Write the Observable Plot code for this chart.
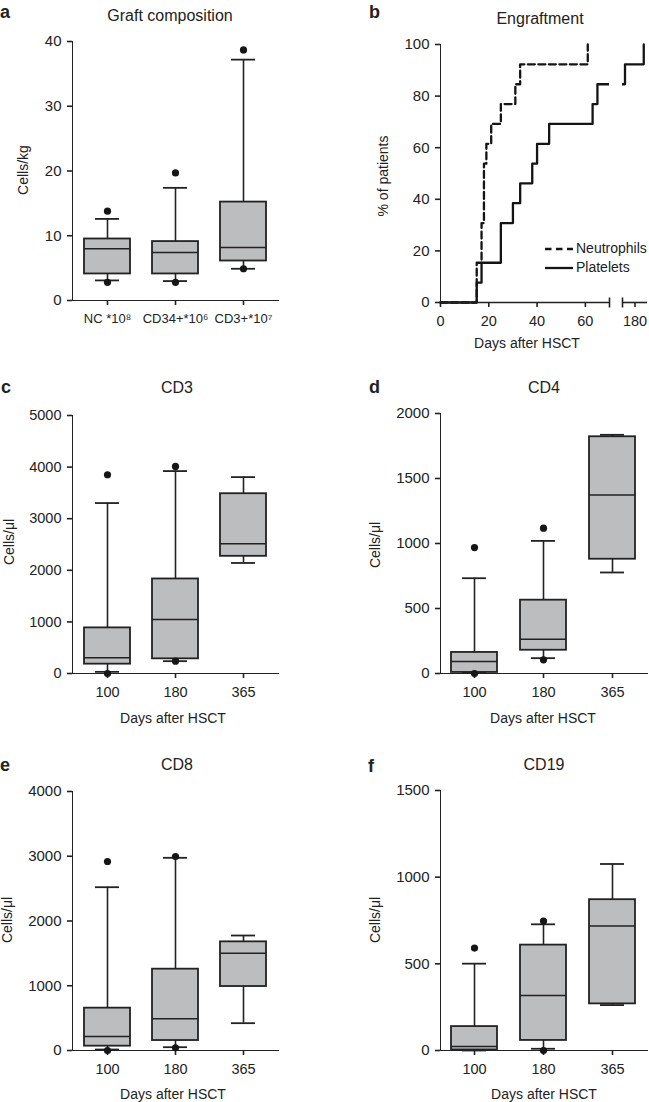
<!DOCTYPE html>
<html>
<head>
<meta charset="utf-8">
<script src="https://cdn.jsdelivr.net/npm/d3@7"></script>
<script src="https://cdn.jsdelivr.net/npm/@observablehq/plot@0.6"></script>
<style>
  body { margin: 0; background: #fff; }
  #root { position: relative; width: 649px; height: 1102px; overflow: hidden;
          font-family: "Liberation Sans", Arial, Helvetica, sans-serif; color: #222; }
  .panel { position: absolute; }
  .panel svg { overflow: visible; }
  .panel g[aria-label*="axis"] path, .panel g[aria-label*="axis"] line { stroke-width: 1.6px; stroke: #222; }
  #overlay { position: absolute; left: 0; top: 0; pointer-events: none; overflow: visible; }
  #overlay text { font-family: "Liberation Sans", Arial, Helvetica, sans-serif; fill: #222; }
  #overlay .letter { font-weight: bold; font-size: 18px; }
  #overlay .title { font-size: 16px; text-anchor: middle; }
  #overlay .axis { font-size: 14px; text-anchor: middle; }
  #overlay .legend { font-size: 14px; dominant-baseline: middle; }
</style>
</head>
<body>
<div id="root"></div>
<script>
// ---------------- DATA ----------------
// Panel a: graft composition
const graftCategories = ["NC *10\u2078", "CD34+*10\u2076", "CD3+*10\u2077"];
const graftQ1 = [4.1, 4.1, 6.1];
const graftMedian = [8.0, 7.4, 8.2];
const graftQ3 = [9.5, 9.1, 15.2];
const graftLow = [3.1, 3.0, 4.9];
const graftHigh = [12.6, 17.4, 37.2];
const graftDotCats = ["NC *10\u2078", "NC *10\u2078", "CD34+*10\u2076", "CD34+*10\u2076", "CD3+*10\u2077", "CD3+*10\u2077"];
const graftDotValues = [13.8, 2.8, 19.7, 2.8, 38.7, 4.9];
const graftTicks = [0, 10, 20, 30, 40];

// Panel b: engraftment (cumulative % of patients)
const neutrophilDays = [0, 15, 17, 18, 19, 21, 25, 31, 33, 61];
const neutrophilPct = [0, 15.4, 30.8, 53.8, 61.5, 69.2, 76.9, 84.6, 92.3, 100];
const plateletDays = [0, 15, 17, 25, 30, 33, 38, 40, 45, 63, 65, 172, 187];
const plateletPct = [0, 7.7, 15.4, 30.8, 38.5, 46.2, 53.8, 61.5, 69.2, 76.9, 84.6, 92.3, 100];
const engraftXTicks = [0, 20, 40, 60, 180];
const engraftYTicks = [0, 20, 40, 60, 80, 100];
const engraftDomain = [0, 70, 170, 190];   // broken axis: 0–70 | 170–190
const breakDays = [70, 170];
const legendLabels = ["Neutrophils", "Platelets"];

// Days after HSCT categories
const dayCategories = ["100", "180", "365"];

// Panel c: CD3
const cd3Q1 = [181, 284, 2271];
const cd3Median = [303, 1045, 2516];
const cd3Q3 = [884, 1832, 3484];
const cd3Low = [32, 239, 2142];
const cd3High = [3303, 3923, 3806];
const cd3DotCats = ["100", "100", "180", "180"];
const cd3DotValues = [3852, 0, 4013, 239];
const cd3Ticks = [0, 1000, 2000, 3000, 4000, 5000];

// Panel d: CD4
const cd4Q1 = [8, 179, 879];
const cd4Median = [92, 264, 1374];
const cd4Q3 = [162, 564, 1821];
const cd4Low = [5, 118, 777];
const cd4High = [733, 1020, 1836];
const cd4DotCats = ["100", "100", "180", "180"];
const cd4DotValues = [969, 0, 1118, 105];
const cd4Ticks = [0, 500, 1000, 1500, 2000];

// Panel e: CD8
const cd8Q1 = [67, 154, 988];
const cd8Median = [216, 489, 1503];
const cd8Q3 = [654, 1256, 1678];
const cd8Low = [15, 51, 422];
const cd8High = [2522, 2976, 1776];
const cd8DotCats = ["100", "100", "180", "180"];
const cd8DotValues = [2919, 0, 2996, 41];
const cd8Ticks = [0, 1000, 2000, 3000, 4000];

// Panel f: CD19
const cd19Q1 = [3, 58, 269];
const cd19Median = [23, 318, 718];
const cd19Q3 = [138, 608, 870];
const cd19Low = [0, 10, 262];
const cd19High = [501, 728, 1076];
const cd19DotCats = ["100", "180", "180"];
const cd19DotValues = [591, 747, 0];
const cd19Ticks = [0, 500, 1000, 1500];

const panelLetters = ["a", "b", "c", "d", "e", "f"];
const panelTitles = ["Graft composition", "Engraftment", "CD3", "CD4", "CD8", "CD19"];
const xAxisLabel = "Days after HSCT";
const yLabels = ["Cells/kg", "% of patients", "Cells/\u03bcl", "Cells/\u03bcl", "Cells/\u03bcl", "Cells/\u03bcl"];

// ---------------- DRAWING ----------------
const INK = "#222";
const BOX_FILL = "#bcbdbf";
const FONT = '"Liberation Sans", Arial, Helvetica, sans-serif';
const root = document.getElementById("root");

// place the svg, then size its tick labels: y-axis labels (left of the frame) vs x-axis labels
function place(id, left, top, node, marginLeft, ySize, xSize) {
  const div = document.createElement("div");
  div.className = "panel";
  div.id = id;
  div.style.left = left + "px";
  div.style.top = top + "px";
  div.appendChild(node);
  root.appendChild(div);
  const svgEl = div.querySelector("svg");
  const box = svgEl.getBoundingClientRect();
  svgEl.querySelectorAll("text").forEach(t => {
    const r = t.getBoundingClientRect();
    const isY = r.right <= box.left + marginLeft - 2;
    t.style.fontSize = (isY ? ySize : xSize) + "px";
    t.style.fill = INK;
    t.style.fontFamily = FONT;
  });
}

function boxPanel(o) {
  const rows = o.cats.map((c, i) => ({cat: c, q1: o.q1[i], med: o.med[i], q3: o.q3[i], lo: o.lo[i], hi: o.hi[i]}));
  const dots = o.dotCats.map((c, i) => ({cat: c, v: o.dotVals[i]}));
  return Plot.plot({
    width: o.width, height: o.height,
    marginLeft: o.ml, marginRight: o.mr, marginTop: o.mt, marginBottom: o.mb,
    style: {fontFamily: FONT, fontSize: "14px", color: INK, background: "transparent", overflow: "visible"},
    x: {domain: o.cats, paddingInner: 0.33, paddingOuter: 0.165, label: null, tickSize: 5, tickPadding: 8, line: true},
    y: {domain: [o.ticks[0], o.ticks[o.ticks.length - 1]], ticks: o.ticks, label: null, tickSize: 5, tickPadding: 6,
        line: true, tickFormat: d => String(d)},
    marks: [
      Plot.ruleX(rows, {x: "cat", y1: "lo", y2: "q1", stroke: INK, strokeWidth: 1.6}),
      Plot.ruleX(rows, {x: "cat", y1: "q3", y2: "hi", stroke: INK, strokeWidth: 1.6}),
      Plot.barY(rows, {x: "cat", y1: "q1", y2: "q3", fill: BOX_FILL, stroke: INK, strokeWidth: 1.8}),
      Plot.tickY(rows, {x: "cat", y: "med", stroke: INK, strokeWidth: 1.5}),
      Plot.tickY(rows, {x: "cat", y: "lo", stroke: INK, strokeWidth: 1.8, insetLeft: 11, insetRight: 11}),
      Plot.tickY(rows, {x: "cat", y: "hi", stroke: INK, strokeWidth: 1.8, insetLeft: 11, insetRight: 11}),
      Plot.dot(dots, {x: "cat", y: "v", r: 3.6, fill: "#161616", stroke: "none"})
    ]
  });
}

// Panel a
place("pa", 0, 0, boxPanel({
  cats: graftCategories, q1: graftQ1, med: graftMedian, q3: graftQ3, lo: graftLow, hi: graftHigh,
  dotCats: graftDotCats, dotVals: graftDotValues, ticks: graftTicks,
  width: 320, height: 340, ml: 72, mr: 42, mt: 41, mb: 40
}), 72, 15, 13);

// Panel b
const neutrophils = neutrophilDays.map((d, i) => ({day: d, pct: neutrophilPct[i]}));
const platelets = plateletDays.map((d, i) => ({day: d, pct: plateletPct[i]}));
const axisSegments = [
  {x1: engraftDomain[0], x2: breakDays[0]},
  {x1: breakDays[1], x2: engraftDomain[engraftDomain.length - 1]}
];
const gap = [{x1: breakDays[0], x2: breakDays[1], y1: engraftYTicks[0], y2: engraftYTicks[engraftYTicks.length - 1]}];
const barSymbol = {
  draw(context, size) {
    const r = Math.sqrt(size / Math.PI);
    context.moveTo(0, -r);
    context.lineTo(0, r);
  }
};
place("pb", 320, 0, Plot.plot({
  width: 329, height: 340,
  marginLeft: 120, marginRight: 2, marginTop: 44, marginBottom: 38,
  style: {fontFamily: FONT, fontSize: "14px", color: INK, background: "transparent", overflow: "visible"},
  x: {type: "linear", domain: engraftDomain, range: [120, 289, 302, 327], ticks: engraftXTicks,
      label: null, tickSize: 5, tickPadding: 8, tickFormat: d => String(d)},
  y: {domain: [0, 100], ticks: engraftYTicks, label: null, tickSize: 5, tickPadding: 6, line: true,
      tickFormat: d => String(d)},
  marks: [
    Plot.line(platelets, {x: "day", y: "pct", curve: "step-after", stroke: "#141414", strokeWidth: 2.3}),
    Plot.line(neutrophils, {x: "day", y: "pct", curve: "step-after", stroke: "#141414", strokeWidth: 2.3,
      strokeDasharray: "7,3.5"}),
    Plot.rect(gap, {x1: "x1", x2: "x2", y1: "y1", y2: "y2", fill: "white", inset: 0}),
    Plot.ruleY(axisSegments, {y: () => 0, x1: "x1", x2: "x2", stroke: INK, strokeWidth: 1.6}),
    Plot.dot(breakDays, {x: d => d, y: () => 0, symbol: barSymbol, r: 5, stroke: INK, strokeWidth: 1.6, fill: "none"})
  ]
}), 120, 15, 14.5);

// Panels c–f
place("pc", 0, 350, boxPanel({
  cats: dayCategories, q1: cd3Q1, med: cd3Median, q3: cd3Q3, lo: cd3Low, hi: cd3High,
  dotCats: cd3DotCats, dotVals: cd3DotValues, ticks: cd3Ticks,
  width: 320, height: 385, ml: 72, mr: 42, mt: 65, mb: 62
}), 72, 14.5, 14.5);
place("pd", 320, 350, boxPanel({
  cats: dayCategories, q1: cd4Q1, med: cd4Median, q3: cd4Q3, lo: cd4Low, hi: cd4High,
  dotCats: cd4DotCats, dotVals: cd4DotValues, ticks: cd4Ticks,
  width: 329, height: 385, ml: 120, mr: 2, mt: 63, mb: 62
}), 120, 15, 14.5);
place("pe", 0, 735, boxPanel({
  cats: dayCategories, q1: cd8Q1, med: cd8Median, q3: cd8Q3, lo: cd8Low, hi: cd8High,
  dotCats: cd8DotCats, dotVals: cd8DotValues, ticks: cd8Ticks,
  width: 320, height: 367, ml: 72, mr: 42, mt: 56, mb: 52
}), 72, 15, 14.5);
place("pf", 320, 735, boxPanel({
  cats: dayCategories, q1: cd19Q1, med: cd19Median, q3: cd19Q3, lo: cd19Low, hi: cd19High,
  dotCats: cd19DotCats, dotVals: cd19DotValues, ticks: cd19Ticks,
  width: 329, height: 367, ml: 120, mr: 2, mt: 55, mb: 52
}), 120, 15, 14.5);

// ---------------- TEXT OVERLAY ----------------
const svg = d3.select(root).append("svg").attr("id", "overlay").attr("width", 649).attr("height", 1102);
const letterPos = [[0, 18], [369, 18], [1, 393], [369, 393], [0, 771], [368, 772]];
panelLetters.forEach((t, i) => svg.append("text").attr("class", "letter").attr("x", letterPos[i][0]).attr("y", letterPos[i][1]).text(t));
const titlePos = [[170, 21], [540, 24], [177, 393], [544, 393], [177, 770], [544, 770]];
panelTitles.forEach((t, i) => svg.append("text").attr("class", "title").attr("x", titlePos[i][0]).attr("y", titlePos[i][1]).text(t));
const xLabelPos = [[527, 348], [173, 723], [543, 723], [173, 1099], [544, 1099]];
xLabelPos.forEach(p => svg.append("text").attr("class", "axis").attr("x", p[0]).attr("y", p[1]).text(xAxisLabel));
const yLabelPos = [[28, 170], [388, 176], [14, 542], [380, 545], [12, 920], [380, 920]];
yLabels.forEach((t, i) => svg.append("text").attr("class", "axis")
  .attr("transform", `translate(${yLabelPos[i][0]},${yLabelPos[i][1]}) rotate(-90)`).text(t));

// legend for panel b
const lg = svg.append("g").attr("transform", "translate(545,249)");
lg.append("line").attr("x1", 0).attr("x2", 28).attr("y1", 0).attr("y2", 0)
  .attr("stroke", "#141414").attr("stroke-width", 2.3).attr("stroke-dasharray", "6.5,4.5");
lg.append("line").attr("x1", 0).attr("x2", 28).attr("y1", 19).attr("y2", 19)
  .attr("stroke", "#141414").attr("stroke-width", 2.3);
lg.append("text").attr("class", "legend").attr("x", 31).attr("y", 0).text(legendLabels[0]);
lg.append("text").attr("class", "legend").attr("x", 31).attr("y", 19).text(legendLabels[1]);
</script>
</body>
</html>
